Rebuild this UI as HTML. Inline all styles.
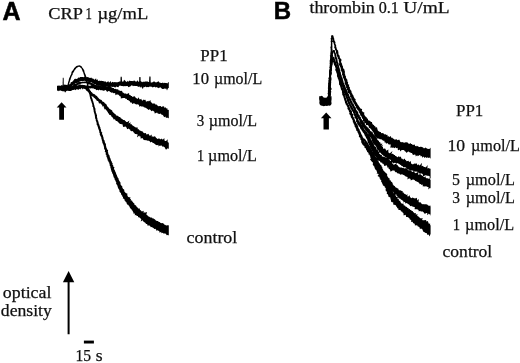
<!DOCTYPE html>
<html><head><meta charset="utf-8"><title>Figure</title>
<style>
html,body{margin:0;padding:0;background:#fff;}
svg{display:block;}
text.s{font-family:"Liberation Serif",serif;fill:#111;stroke:#111;stroke-width:0.25px;}
text.b{font-family:"Liberation Sans",sans-serif;font-weight:bold;fill:#000;stroke:#000;stroke-width:0.5px;}
</style></head><body>
<svg width="520" height="363" viewBox="0 0 520 363">
<defs><clipPath id="cl"><rect x="0" y="0" width="168.8" height="363"/><rect x="300" y="0" width="130.6" height="363"/></clipPath></defs>
<rect width="520" height="363" fill="#fff"/>
<g fill="#000" stroke="none">
<g clip-path="url(#cl)"><path d="M57.0 88.6 L58.0 88.7 L59.0 88.5 L59.9 88.6 L60.9 88.7 L61.8 89.0 L62.7 88.6 L63.6 88.9 L64.5 88.2 L65.4 88.5 L66.2 88.0 L67.1 88.7 L68.0 88.8 L69.1 88.1 L70.1 87.5 L71.7 87.8 L71.8 86.4 L72.3 85.6 L73.0 84.9 L74.1 84.7 L74.6 84.0 L75.3 83.5 L75.9 83.0 L76.9 83.0 L77.7 82.8 L78.5 82.7 L79.0 82.0 L79.7 81.5 L80.5 81.2 L81.3 81.2 L82.0 80.9 L82.7 81.0 L83.4 81.0 L84.3 80.8 L85.1 80.9 L85.9 81.8 L86.8 81.6 L87.7 81.6 L88.5 82.1 L89.2 82.6 L90.0 82.4 L90.7 82.8 L91.7 82.3 L92.4 82.9 L93.1 83.6 L94.0 84.0 L94.9 84.5 L95.8 84.4 L96.5 85.4 L97.4 85.5 L98.2 86.0 L99.5 85.3 L100.3 85.8 L101.1 86.7 L102.1 86.7 L103.0 86.8 L103.8 87.4 L104.9 86.9 L105.8 87.3 L106.9 86.4 L107.9 87.0 L108.8 87.7 L109.8 88.3 L110.7 86.8 L111.7 86.8 L112.6 86.9 L113.5 86.7 L114.5 87.2 L115.5 87.5 L116.3 86.4 L117.4 86.9 L118.4 87.3 L119.1 86.1 L119.9 85.6 L120.7 85.8 L121.6 86.0 L122.3 85.9 L123.2 86.2 L124.1 86.3 L125.0 85.9 L125.8 86.3 L126.7 86.0 L127.6 86.0 L128.5 87.3 L129.4 86.7 L130.3 86.4 L131.2 85.6 L132.1 85.3 L133.0 86.3 L133.9 85.7 L134.8 85.9 L135.7 85.9 L136.6 86.0 L137.5 86.2 L138.4 87.0 L139.3 86.2 L140.2 87.7 L141.1 86.6 L141.9 87.8 L142.8 88.9 L143.8 86.7 L144.6 87.3 L145.6 86.4 L146.4 87.2 L147.3 87.0 L148.2 87.2 L149.2 86.7 L150.1 86.6 L150.9 86.8 L151.8 86.8 L152.6 87.6 L153.6 87.1 L154.5 86.8 L155.3 87.6 L156.3 87.0 L157.2 87.4 L158.1 87.8 L158.9 88.3 L159.9 87.3 L160.8 87.6 L161.6 88.6 L162.5 89.0 L163.4 89.0 L164.4 88.5 L165.3 88.7 L166.2 88.4 L167.0 90.5 L168.0 88.3 L168.9 88.1 L169.8 88.1 L170.4 89.0 L170.7 82.6 L170.1 82.1 L169.2 82.6 L168.3 82.1 L167.4 83.5 L166.5 83.0 L165.6 82.9 L164.7 82.8 L163.8 83.3 L162.9 82.5 L162.0 83.0 L161.1 83.0 L160.2 82.8 L159.4 82.4 L158.6 81.3 L157.6 81.8 L156.7 82.3 L155.8 82.4 L154.9 81.8 L154.1 81.4 L153.1 81.8 L152.2 82.4 L151.2 82.4 L150.3 82.4 L149.4 82.0 L148.5 81.9 L147.7 81.4 L146.8 81.4 L145.8 81.5 L144.9 81.4 L144.0 82.1 L143.1 81.5 L142.2 82.2 L141.3 81.5 L140.4 81.1 L139.5 81.7 L138.6 82.0 L137.7 80.3 L136.8 81.6 L135.9 81.4 L135.0 81.2 L134.1 80.2 L133.2 81.3 L132.3 80.9 L131.4 81.0 L130.5 80.9 L129.6 80.4 L128.6 81.7 L127.8 80.7 L126.8 81.9 L125.9 81.5 L125.0 80.6 L124.1 79.8 L123.2 81.7 L122.3 81.5 L121.3 81.5 L120.3 81.5 L119.3 81.6 L118.4 81.9 L117.5 82.2 L116.6 82.3 L115.7 82.2 L114.9 82.0 L114.1 82.2 L113.2 82.2 L112.3 81.8 L111.5 82.9 L110.6 81.1 L109.7 82.3 L108.9 82.4 L108.2 80.9 L107.3 82.1 L106.5 82.5 L105.8 81.4 L104.9 81.6 L104.0 81.6 L103.2 81.1 L102.4 80.9 L101.6 80.7 L100.6 81.1 L99.9 80.6 L98.9 81.0 L98.0 80.7 L97.5 79.3 L96.3 80.1 L96.1 78.2 L94.6 79.7 L93.9 79.2 L93.1 78.6 L92.0 78.6 L91.3 77.5 L90.2 77.9 L89.2 77.8 L88.4 77.3 L87.4 77.1 L86.4 77.5 L85.6 76.3 L84.6 76.6 L83.6 77.2 L82.6 77.0 L81.4 76.9 L80.3 77.0 L79.4 77.8 L78.3 77.5 L77.6 78.4 L76.7 78.9 L75.4 78.7 L74.4 79.1 L73.9 80.1 L73.1 80.7 L72.6 81.6 L71.7 82.1 L70.7 82.2 L70.6 83.4 L69.9 83.9 L69.1 84.6 L68.5 85.1 L68.1 85.5 L67.6 85.2 L66.9 85.0 L66.1 84.7 L65.2 84.7 L64.4 84.5 L63.5 85.4 L62.7 85.4 L61.8 85.0 L60.8 85.8 L59.9 85.8 L59.0 85.4 L58.0 85.8 L57.0 85.8Z"/>
<path d="M57.0 90.1 L58.0 90.8 L58.9 89.5 L59.9 89.8 L60.8 89.4 L61.7 89.5 L62.6 89.8 L63.5 89.6 L64.4 89.7 L65.3 89.6 L66.2 89.7 L67.1 90.3 L68.0 90.5 L68.9 90.2 L69.8 89.7 L71.1 90.4 L72.1 89.2 L72.8 88.3 L73.6 87.9 L74.5 87.5 L75.1 86.8 L75.9 86.3 L76.6 85.9 L77.3 85.3 L78.0 84.8 L78.8 84.7 L79.5 84.1 L80.4 84.0 L81.1 83.5 L81.9 83.6 L82.8 83.3 L83.7 83.3 L84.6 83.2 L85.4 83.2 L86.3 83.1 L87.1 83.4 L87.9 83.7 L88.6 84.2 L89.4 84.5 L90.3 84.5 L90.7 85.2 L91.5 85.8 L92.1 86.6 L92.9 87.0 L93.4 88.0 L94.3 88.9 L95.4 89.1 L96.3 90.3 L97.5 89.7 L98.3 90.5 L99.4 89.4 L100.2 90.2 L101.2 90.0 L102.1 90.4 L103.0 90.2 L103.8 91.0 L104.8 90.2 L105.7 90.0 L106.5 90.9 L107.1 91.9 L108.0 91.3 L108.9 90.9 L109.5 91.3 L110.2 91.9 L110.9 92.2 L111.5 92.8 L112.7 92.4 L113.3 93.3 L114.4 93.1 L115.3 93.4 L115.4 95.2 L116.6 94.6 L117.7 94.5 L118.5 94.8 L119.2 95.4 L119.8 96.2 L120.8 96.4 L120.8 98.6 L121.9 98.3 L123.1 98.0 L124.1 98.1 L125.1 98.1 L125.6 99.0 L126.7 98.8 L127.1 100.1 L128.2 100.0 L128.9 100.7 L129.8 100.9 L130.0 102.6 L131.2 102.3 L131.8 103.1 L132.4 104.0 L133.7 103.2 L134.6 103.4 L135.4 104.0 L136.1 104.6 L137.2 104.3 L138.2 104.4 L139.0 104.9 L139.3 106.7 L140.6 105.9 L141.3 106.5 L142.3 106.6 L143.2 106.6 L143.9 107.3 L144.8 107.5 L145.6 107.7 L146.4 108.2 L147.1 108.7 L147.8 109.3 L148.4 110.1 L149.6 109.3 L150.3 109.7 L150.9 110.6 L151.5 111.3 L152.9 110.5 L153.6 111.3 L154.4 111.7 L154.7 113.4 L156.0 113.0 L157.1 112.6 L157.7 113.5 L158.6 113.8 L159.5 114.1 L160.7 113.6 L161.3 114.5 L162.2 114.7 L163.0 115.2 L163.6 116.3 L164.2 117.3 L165.5 116.4 L166.0 118.0 L167.1 117.4 L167.9 118.0 L168.8 118.2 L169.3 118.1 L171.8 109.7 L171.3 110.1 L170.7 109.0 L169.9 108.6 L168.5 110.1 L167.7 109.9 L167.3 108.2 L166.3 108.5 L165.8 107.3 L164.6 107.9 L164.2 106.7 L163.4 106.3 L162.4 106.4 L161.2 107.0 L160.7 105.9 L159.7 106.1 L158.7 106.2 L157.9 106.0 L157.3 105.2 L156.7 104.5 L155.6 104.8 L155.1 103.8 L154.2 103.5 L153.2 103.5 L152.2 103.4 L151.5 102.6 L150.7 101.8 L150.4 100.1 L148.9 101.4 L148.2 100.7 L146.9 101.4 L145.9 101.6 L145.5 99.8 L144.6 99.9 L143.7 99.6 L142.4 100.7 L141.7 100.0 L141.2 98.7 L140.0 99.5 L139.2 99.0 L139.0 97.2 L137.3 99.0 L136.7 98.3 L135.8 98.0 L135.3 96.9 L134.6 96.2 L133.6 96.5 L132.4 96.9 L131.9 95.9 L130.9 96.0 L130.4 94.9 L129.3 95.0 L129.1 93.3 L128.2 93.2 L126.8 94.2 L126.1 93.6 L125.1 93.6 L124.2 93.5 L123.5 92.8 L122.7 92.5 L122.3 91.5 L121.7 90.7 L120.5 91.1 L119.8 90.5 L118.8 90.4 L118.2 89.4 L117.2 89.3 L116.3 89.2 L115.5 88.8 L114.3 89.1 L113.7 88.1 L112.7 88.0 L111.8 87.6 L111.0 86.9 L109.9 87.0 L109.0 86.7 L108.0 86.5 L107.1 86.4 L106.2 86.4 L105.3 85.7 L104.4 85.8 L103.4 85.9 L102.5 86.0 L101.6 86.2 L100.8 85.3 L99.9 85.6 L99.2 84.2 L98.0 85.9 L97.3 85.6 L96.6 85.3 L96.0 85.1 L95.1 85.1 L94.6 84.2 L93.7 84.0 L93.1 83.5 L92.2 83.1 L91.2 82.7 L90.2 82.5 L89.5 81.6 L88.4 82.0 L87.5 81.4 L86.4 81.5 L85.4 81.7 L84.5 81.5 L83.6 81.8 L82.7 81.6 L81.8 81.9 L80.8 82.0 L79.7 81.7 L78.8 81.8 L78.0 82.5 L77.0 82.8 L76.2 83.4 L75.3 83.7 L74.3 83.8 L73.7 84.6 L73.1 85.3 L72.3 85.6 L71.5 86.1 L70.8 86.7 L70.2 87.0 L69.5 86.5 L68.7 86.8 L67.8 86.5 L67.0 86.5 L66.1 86.5 L65.2 86.5 L64.4 86.7 L63.5 86.8 L62.6 86.9 L61.7 86.7 L60.8 86.8 L59.8 86.5 L58.9 86.9 L58.0 86.5 L57.0 87.1Z"/>
<path d="M57.0 90.8 L57.9 90.3 L58.8 91.2 L59.7 90.6 L60.7 90.6 L61.6 90.9 L62.5 91.2 L63.4 91.2 L64.3 91.4 L65.2 91.1 L66.1 91.2 L67.0 90.7 L67.9 90.5 L68.8 91.0 L69.7 90.9 L70.7 91.1 L71.7 90.5 L72.6 90.1 L73.6 90.1 L74.4 89.5 L75.5 90.2 L76.1 89.5 L76.9 89.2 L77.8 89.4 L78.8 89.7 L79.5 88.8 L80.4 89.5 L81.2 88.3 L82.0 88.3 L82.6 89.4 L83.6 88.5 L84.4 88.6 L85.0 89.2 L85.1 89.6 L85.9 89.3 L86.0 90.2 L86.8 90.9 L87.6 91.6 L88.3 92.3 L89.0 92.9 L89.4 93.9 L90.0 94.6 L90.6 95.3 L91.3 95.9 L92.1 96.4 L93.1 96.6 L93.6 97.4 L94.4 97.9 L95.0 98.5 L95.6 99.3 L96.3 99.8 L96.7 100.8 L97.7 101.0 L98.4 101.5 L98.7 102.6 L99.0 103.5 L100.4 103.2 L101.0 103.9 L101.4 104.6 L102.3 105.0 L102.0 106.4 L103.6 106.1 L103.7 107.3 L104.3 107.9 L104.2 109.2 L105.6 109.2 L106.2 109.9 L106.7 110.7 L107.3 111.4 L107.8 112.3 L108.2 113.1 L108.8 113.8 L109.2 114.7 L110.2 115.0 L111.1 115.4 L111.3 116.5 L112.2 116.9 L112.7 117.8 L113.3 118.5 L113.6 119.6 L115.0 119.3 L115.4 120.3 L116.1 120.9 L117.3 121.0 L117.7 121.9 L118.5 122.4 L119.3 122.9 L119.7 124.0 L120.9 123.9 L121.7 124.3 L122.7 124.5 L122.8 125.9 L123.3 126.9 L124.5 126.7 L125.6 126.5 L126.3 127.2 L126.7 128.1 L127.2 129.2 L128.6 128.6 L129.2 129.3 L130.1 129.6 L130.5 130.7 L131.2 131.2 L132.3 131.1 L133.1 131.6 L133.7 132.4 L134.4 133.0 L134.9 133.9 L135.9 134.0 L136.9 134.2 L137.7 134.5 L136.9 137.4 L139.2 135.5 L139.6 136.5 L140.7 136.5 L140.5 138.6 L141.8 138.2 L142.9 138.3 L143.2 139.6 L144.2 139.9 L145.1 140.3 L146.2 140.1 L147.0 140.7 L148.2 140.4 L148.9 141.0 L149.8 141.2 L150.4 142.4 L151.6 141.7 L152.3 142.6 L153.2 142.9 L154.0 143.2 L154.7 143.9 L155.4 144.6 L156.3 145.0 L157.1 145.3 L158.3 144.8 L158.6 146.5 L159.9 145.5 L160.8 145.8 L161.9 145.4 L162.4 146.8 L163.4 146.6 L164.3 146.9 L165.0 147.7 L165.5 149.2 L166.4 149.4 L167.7 148.3 L168.5 148.7 L169.4 149.0 L169.7 148.6 L171.2 143.1 L171.2 142.8 L170.2 142.8 L169.5 142.1 L168.4 142.7 L167.7 142.1 L167.6 139.3 L166.1 141.1 L165.2 141.1 L164.5 140.4 L164.3 138.1 L163.0 139.4 L162.0 139.3 L161.4 138.5 L160.1 139.6 L159.5 138.4 L158.6 138.4 L157.4 139.0 L156.7 138.3 L156.0 137.7 L155.4 136.7 L154.7 136.2 L153.5 136.7 L152.7 136.5 L151.7 136.5 L151.7 134.4 L150.1 135.8 L149.3 135.5 L148.9 134.6 L148.3 133.7 L147.0 134.6 L146.2 134.2 L146.0 132.9 L144.8 133.3 L144.0 132.9 L143.2 132.4 L142.7 131.5 L141.9 131.2 L140.9 131.0 L140.1 130.6 L139.3 130.2 L138.9 129.2 L137.7 129.3 L137.7 127.6 L136.7 127.6 L135.8 127.4 L135.0 126.9 L134.2 126.5 L133.5 126.0 L132.7 125.5 L131.9 125.1 L131.5 124.1 L130.3 124.3 L130.6 122.2 L128.6 123.5 L129.4 120.6 L127.4 122.1 L126.4 122.0 L125.7 121.3 L125.1 120.7 L124.5 120.0 L123.3 120.1 L122.8 119.4 L122.1 118.9 L121.3 118.4 L120.5 118.1 L120.3 117.0 L119.2 117.1 L118.6 116.4 L117.9 115.9 L117.1 115.5 L116.0 115.4 L115.7 114.4 L115.0 113.8 L114.2 113.4 L113.5 112.8 L113.0 112.1 L112.3 111.6 L112.2 110.4 L111.4 109.9 L110.6 109.5 L109.9 108.9 L109.1 108.5 L108.7 107.7 L108.1 107.1 L107.4 106.5 L107.0 105.7 L106.6 104.8 L106.1 104.0 L105.1 103.6 L104.6 102.9 L104.0 102.1 L103.0 101.8 L102.2 101.3 L101.8 100.3 L101.0 99.8 L100.1 99.5 L99.4 98.9 L98.7 98.3 L98.1 97.6 L97.4 97.1 L97.1 96.0 L96.3 95.7 L95.5 95.2 L95.0 94.4 L94.0 94.1 L93.2 93.7 L92.5 93.2 L92.0 92.3 L91.2 91.9 L90.9 91.0 L90.2 90.5 L89.9 89.7 L89.1 89.4 L88.7 88.5 L87.9 87.7 L87.5 86.3 L86.4 85.7 L85.3 85.4 L84.3 84.9 L83.1 85.1 L82.0 84.8 L81.0 85.1 L79.9 84.1 L79.0 84.9 L78.1 85.3 L77.2 85.5 L76.3 85.6 L75.4 85.7 L74.5 86.3 L73.6 86.6 L72.8 87.1 L72.0 87.5 L71.0 86.9 L70.4 87.9 L69.5 87.7 L68.7 87.7 L67.8 87.7 L66.9 87.7 L66.0 88.1 L65.1 87.5 L64.2 87.7 L63.3 87.8 L62.4 87.3 L61.5 87.5 L60.6 87.3 L59.7 87.8 L58.8 87.9 L57.9 87.8 L57.0 87.5Z"/>
<path d="M84.0 88.3 L84.9 89.1 L85.8 88.5 L86.7 88.7 L87.6 88.4 L88.5 88.2 L89.4 88.3 L90.3 88.4 L91.2 88.3 L92.1 88.3 L93.0 88.5 L93.9 88.2 L94.8 87.9 L95.6 88.1 L96.5 88.2 L97.4 88.0 L98.3 88.6 L99.2 88.4 L99.9 88.8 L100.1 86.3 L99.4 86.2 L98.5 85.6 L97.6 85.3 L96.7 85.3 L95.8 85.8 L94.9 85.7 L94.0 85.1 L93.0 85.7 L92.1 85.1 L91.2 85.4 L90.3 85.8 L89.4 85.8 L88.5 85.9 L87.6 85.9 L86.7 85.6 L85.8 85.8 L84.9 85.5 L84.0 85.5Z"/>
<path d="M68.3 87.2 L68.6 86.3 L68.8 85.5 L69.0 84.6 L69.2 83.7 L69.4 82.8 L69.8 82.0 L69.9 81.1 L70.3 80.3 L70.6 79.5 L70.8 78.6 L71.1 77.7 L71.4 76.9 L71.7 76.1 L72.2 75.3 L72.7 74.6 L72.7 73.6 L73.3 72.8 L73.7 72.0 L74.2 71.3 L74.5 70.5 L75.1 69.8 L75.6 69.2 L76.1 68.6 L76.5 67.9 L77.2 67.4 L77.9 67.3 L78.6 66.8 L79.2 66.8 L79.8 67.0 L80.4 67.6 L81.0 68.0 L81.5 68.6 L81.9 69.5 L82.3 70.2 L82.4 71.1 L83.0 71.9 L83.3 72.7 L83.5 73.5 L83.8 74.4 L84.0 75.3 L84.4 76.1 L84.7 76.9 L85.2 77.7 L85.4 78.6 L85.3 79.5 L85.5 80.4 L86.0 81.2 L86.2 82.1 L86.3 82.9 L86.7 83.8 L86.9 84.6 L86.9 85.5 L87.2 86.4 L87.3 87.3 L87.6 88.2 L87.6 89.1 L88.1 89.9 L88.0 90.9 L88.4 91.7 L88.9 92.5 L88.9 93.4 L89.4 94.3 L89.5 95.2 L89.7 96.0 L89.8 97.0 L90.1 97.8 L90.2 98.7 L90.7 99.5 L90.8 100.4 L91.3 101.2 L91.4 102.1 L91.8 102.9 L92.0 103.8 L92.3 104.6 L92.4 105.5 L92.3 106.5 L93.0 107.2 L93.2 108.1 L93.3 109.0 L93.5 109.9 L93.7 110.8 L93.7 111.7 L94.0 112.5 L94.3 113.4 L94.5 114.3 L94.8 115.1 L94.8 116.0 L95.1 116.9 L95.0 117.8 L95.3 118.7 L95.8 119.5 L95.7 120.5 L96.1 121.3 L96.4 122.2 L96.7 123.0 L96.6 124.0 L96.8 124.9 L97.4 125.6 L97.6 126.5 L98.0 127.4 L98.1 128.3 L98.4 129.1 L98.8 129.9 L99.1 130.8 L99.3 131.7 L99.3 132.6 L99.9 133.4 L99.7 134.4 L100.2 135.2 L100.3 136.1 L101.0 136.8 L101.3 137.7 L101.3 138.6 L101.7 139.4 L101.8 140.3 L102.1 141.2 L102.4 142.0 L102.3 143.0 L103.0 143.7 L103.2 144.6 L103.6 145.4 L103.8 146.3 L104.0 147.2 L104.1 148.1 L104.1 149.0 L104.8 149.8 L105.1 150.6 L104.7 151.7 L105.6 152.3 L105.8 153.2 L105.5 154.3 L106.3 155.0 L106.5 155.9 L106.4 156.9 L107.1 157.6 L107.2 158.5 L107.6 159.3 L107.5 160.3 L108.5 160.9 L108.3 161.9 L109.2 162.6 L109.3 163.5 L109.7 164.3 L109.5 165.3 L110.2 166.0 L110.4 166.9 L110.4 167.9 L110.9 168.7 L110.9 169.6 L111.3 170.4 L111.4 171.4 L112.0 172.1 L112.1 173.0 L112.5 173.8 L113.0 174.6 L113.2 175.5 L113.5 176.4 L113.6 177.3 L114.4 178.0 L114.6 178.9 L114.7 179.8 L115.4 180.5 L115.6 181.4 L116.2 182.1 L116.2 183.1 L116.1 184.1 L117.0 184.7 L117.3 185.6 L117.6 186.5 L117.9 187.4 L118.2 188.2 L118.6 189.0 L119.2 189.8 L119.5 190.7 L119.5 191.7 L120.2 192.4 L120.9 193.0 L121.1 194.0 L121.4 194.9 L122.2 195.5 L122.2 196.6 L123.1 197.1 L122.8 198.4 L124.0 198.7 L124.5 199.5 L124.5 200.6 L125.4 201.1 L125.6 202.1 L126.6 202.6 L126.7 203.6 L127.1 204.5 L128.2 204.8 L128.6 205.6 L129.3 206.3 L129.7 207.2 L130.2 207.9 L130.7 208.7 L131.5 209.2 L131.8 210.2 L132.6 210.7 L132.9 211.8 L133.4 212.6 L133.6 213.8 L135.1 213.6 L134.7 215.3 L136.3 215.0 L136.6 216.0 L137.9 216.0 L138.1 217.2 L139.3 217.2 L139.8 218.1 L140.7 218.4 L141.3 219.3 L140.7 221.5 L142.8 220.3 L143.3 221.4 L144.0 222.0 L144.8 222.5 L145.5 223.1 L146.0 224.1 L147.2 224.0 L147.4 225.4 L148.6 225.4 L149.5 225.6 L150.3 226.2 L150.8 227.3 L152.0 227.1 L152.7 227.7 L153.6 228.0 L154.1 229.1 L155.3 228.8 L156.1 229.4 L156.4 230.8 L157.7 230.2 L158.4 230.8 L159.3 231.3 L159.7 232.7 L161.1 231.8 L161.5 233.2 L162.7 232.8 L163.4 233.5 L164.4 233.6 L165.4 233.6 L166.1 234.2 L166.8 235.2 L167.9 234.9 L168.7 235.3 L168.9 235.7 L171.9 227.0 L171.7 226.8 L170.9 226.5 L170.2 225.7 L169.3 225.8 L168.6 225.2 L167.6 225.3 L166.5 225.6 L165.8 225.2 L165.0 224.7 L164.2 224.5 L163.6 223.7 L163.0 223.0 L161.9 223.2 L161.0 223.0 L160.2 222.8 L159.7 221.9 L158.7 221.9 L158.1 221.0 L157.2 220.9 L156.3 220.8 L155.6 220.3 L155.0 219.6 L154.3 219.1 L153.6 218.5 L152.6 218.5 L152.1 217.8 L151.2 217.6 L150.3 217.4 L149.7 216.9 L148.9 216.5 L148.0 216.3 L147.6 215.6 L147.0 214.9 L146.3 214.5 L147.1 212.1 L145.7 212.5 L144.6 212.5 L143.4 212.6 L143.8 210.8 L141.9 211.5 L141.3 210.9 L140.8 210.2 L139.8 210.0 L140.1 208.4 L138.5 208.8 L138.2 208.0 L137.5 207.4 L136.7 207.0 L136.4 206.1 L135.9 205.4 L135.1 204.9 L134.3 204.4 L134.3 203.3 L133.4 202.9 L133.0 202.1 L132.2 201.6 L132.1 200.6 L130.7 200.6 L131.1 199.2 L130.0 198.9 L130.6 197.4 L129.4 197.2 L128.3 196.9 L127.7 196.2 L127.4 195.4 L127.3 194.4 L127.4 193.4 L126.0 193.2 L125.3 192.6 L124.8 191.9 L124.3 191.2 L124.3 190.2 L124.0 189.3 L122.8 189.0 L122.9 187.9 L122.2 187.4 L122.3 186.3 L121.6 185.7 L120.8 185.0 L120.6 184.2 L120.5 183.3 L120.4 182.3 L119.8 181.6 L119.3 180.9 L119.0 180.0 L118.5 179.2 L118.5 178.3 L117.7 177.6 L117.4 176.8 L117.1 175.9 L116.8 175.1 L116.3 174.3 L116.1 173.4 L115.8 172.6 L115.4 171.8 L115.0 171.0 L114.8 170.1 L114.2 169.4 L114.0 168.5 L114.5 167.3 L113.3 166.8 L113.4 165.8 L112.8 165.1 L112.4 164.3 L112.7 163.2 L111.9 162.6 L111.8 161.6 L111.2 160.9 L111.0 160.0 L110.6 159.2 L110.4 158.3 L109.9 157.5 L109.7 156.7 L109.6 155.8 L109.1 155.0 L108.5 154.2 L108.3 153.4 L108.2 152.4 L107.8 151.6 L108.2 150.6 L107.5 149.8 L107.0 149.1 L106.8 148.2 L106.4 147.4 L106.2 146.5 L105.9 145.6 L106.0 144.7 L105.8 143.8 L105.2 143.0 L104.9 142.2 L104.7 141.3 L104.6 140.4 L103.9 139.7 L103.6 138.8 L103.6 137.9 L103.3 137.0 L103.0 136.2 L102.8 135.3 L102.3 134.5 L102.0 133.7 L102.3 132.6 L101.5 131.9 L101.1 131.1 L101.1 130.2 L100.9 129.3 L100.4 128.5 L100.4 127.6 L100.0 126.8 L99.7 125.9 L99.4 125.1 L99.2 124.2 L98.7 123.4 L98.6 122.5 L98.3 121.6 L98.1 120.8 L97.6 120.0 L97.4 119.1 L97.4 118.2 L97.1 117.4 L96.9 116.5 L97.1 115.5 L96.7 114.7 L96.5 113.8 L96.0 113.0 L95.8 112.1 L95.7 111.2 L95.4 110.3 L95.5 109.4 L95.4 108.5 L95.0 107.7 L94.6 106.8 L94.5 105.9 L94.2 105.1 L94.0 104.2 L93.8 103.3 L93.5 102.5 L93.3 101.6 L92.9 100.7 L92.7 99.8 L92.5 99.0 L92.1 98.1 L91.8 97.3 L91.6 96.4 L91.2 95.6 L91.1 94.7 L90.8 93.8 L90.7 92.9 L90.5 92.0 L90.0 91.3 L89.9 90.4 L89.5 89.6 L89.3 88.7 L89.1 87.8 L89.2 86.9 L88.7 86.1 L88.5 85.2 L88.6 84.2 L88.0 83.4 L87.9 82.5 L87.6 81.7 L87.4 80.8 L87.1 79.9 L87.0 79.0 L86.9 78.1 L86.7 77.2 L86.2 76.4 L85.9 75.6 L85.7 74.7 L85.2 73.9 L85.0 73.0 L84.5 72.2 L84.4 71.2 L84.2 70.3 L83.7 69.5 L83.2 68.7 L82.7 67.9 L82.0 67.2 L81.6 66.2 L80.6 65.7 L79.5 65.2 L78.3 65.4 L77.3 65.7 L76.4 66.1 L75.6 66.8 L74.9 67.5 L74.2 68.1 L73.8 68.9 L73.2 69.7 L72.7 70.5 L72.0 71.2 L71.5 72.0 L71.4 73.0 L71.2 73.9 L70.8 74.7 L70.4 75.5 L70.0 76.4 L69.8 77.3 L69.1 78.0 L69.1 79.0 L68.7 79.8 L68.7 80.8 L68.3 81.6 L68.0 82.4 L67.9 83.3 L67.6 84.2 L67.4 85.1 L67.0 85.9 L66.8 86.8Z"/>
<path d="M64.5 89.0 L64.6 89.9 L64.6 90.8 L64.7 91.7 L64.7 92.3 L65.9 92.3 L65.9 91.7 L66.0 90.8 L66.0 89.9 L66.1 89.0Z"/>
<path d="M63.9 88.0 L63.8 87.1 L63.8 86.2 L63.8 85.3 L63.8 84.4 L63.7 83.5 L63.7 82.6 L63.7 81.7 L63.7 80.8 L63.7 79.9 L63.7 79.0 L63.6 78.1 L63.6 77.8 L62.8 77.8 L62.8 78.1 L62.7 79.0 L62.8 79.9 L62.7 80.8 L62.7 81.7 L62.6 82.6 L62.7 83.5 L62.6 84.4 L62.6 85.3 L62.6 86.2 L62.5 87.1 L62.5 88.0Z"/>
<path d="M122.1 84.0 L122.1 83.1 L122.0 82.2 L122.0 81.3 L122.0 80.4 L121.9 79.5 L121.9 78.6 L121.8 77.7 L121.8 76.8 L121.2 76.8 L121.2 76.8 L120.6 76.8 L120.6 77.7 L120.5 78.6 L120.5 79.5 L120.5 80.4 L120.4 81.3 L120.4 82.2 L120.4 83.1 L120.3 84.0Z"/>
<path d="M140.8 84.0 L140.8 83.1 L140.7 82.2 L140.7 81.3 L140.6 80.4 L140.6 79.5 L140.6 78.6 L140.5 77.7 L140.5 77.0 L139.3 77.0 L139.3 77.7 L139.2 78.6 L139.2 79.5 L139.2 80.4 L139.1 81.3 L139.1 82.2 L139.0 83.1 L139.0 84.0Z"/>
<path d="M150.8 84.0 L150.8 83.1 L150.7 82.2 L150.7 81.3 L150.6 80.4 L150.6 79.5 L150.6 78.6 L150.6 77.7 L150.5 76.8 L150.5 76.6 L149.3 76.6 L149.3 76.8 L149.3 77.7 L149.2 78.6 L149.2 79.5 L149.1 80.4 L149.1 81.3 L149.1 82.2 L149.1 83.1 L149.0 84.0Z"/>
<path d="M319.2 96.6 L319.9 95.9 L320.8 96.2 L321.6 95.8 L322.6 96.3 L323.3 97.2 L324.2 97.7 L325.1 97.5 L326 97.9 L326.8 97.2 L327.5 96.3 L328.4 95.9 L329.2 96.3 L331.5 96.2 L331.6 99 L331.3 101.5 L331.6 103.6 L331 105 L329.8 105.8 L328.4 105.6 L327 106.1 L325.4 105.8 L323.8 106.2 L322.2 105.8 L320.8 105.5 L319.8 104.6 L319.3 103 L319.5 101 L319.1 99 Z"/>
<path d="M330.4 99.0 L330.7 98.2 L330.7 97.3 L330.3 96.3 L330.7 95.5 L330.9 94.6 L331.0 93.7 L330.8 92.8 L331.4 91.9 L331.0 91.0 L330.7 90.0 L331.9 89.2 L331.4 88.3 L331.0 87.4 L330.8 86.4 L330.8 85.5 L331.1 84.7 L331.0 83.8 L331.2 82.9 L331.2 82.0 L331.1 81.1 L331.4 80.2 L331.5 79.3 L331.5 78.4 L331.2 77.5 L331.0 76.5 L331.0 75.6 L331.3 74.8 L331.3 73.9 L331.2 72.9 L331.3 72.1 L331.2 71.1 L331.4 70.3 L331.6 69.4 L331.6 68.5 L332.0 67.6 L332.0 66.7 L331.8 65.8 L331.9 64.9 L331.5 64.0 L331.6 63.1 L331.9 62.2 L331.6 61.3 L331.6 60.4 L331.7 59.5 L332.0 58.6 L331.7 57.7 L331.8 56.8 L331.9 55.9 L331.9 55.0 L332.5 54.0 L332.0 53.0 L332.1 51.9 L332.4 50.8 L332.6 49.7 L332.3 48.5 L332.4 47.3 L332.4 46.1 L332.3 44.9 L332.4 43.7 L332.3 42.6 L332.7 41.5 L332.4 40.5 L332.5 39.6 L332.7 38.7 L332.7 37.9 L332.7 37.3 L332.9 36.8 L332.9 36.4 L332.8 36.2 L332.5 36.6 L331.6 36.3 L331.8 36.5 L331.9 37.2 L332.2 38.0 L332.6 39.0 L332.8 40.1 L332.5 41.4 L333.4 42.4 L333.7 43.5 L333.9 44.4 L334.3 45.3 L334.4 46.2 L334.2 47.2 L334.3 48.1 L335.0 48.8 L335.0 49.8 L335.6 50.5 L336.0 51.3 L336.0 52.3 L336.0 53.2 L336.6 54.0 L336.7 54.9 L336.8 55.8 L337.2 56.6 L337.8 57.4 L337.4 58.4 L338.5 59.0 L338.8 59.9 L338.7 60.8 L339.0 61.7 L339.2 62.6 L339.2 63.5 L338.7 64.6 L339.3 65.4 L340.0 66.1 L340.0 67.0 L340.7 67.8 L340.7 68.7 L340.9 69.6 L341.0 70.5 L341.4 71.3 L341.7 72.1 L342.3 72.9 L341.9 73.9 L342.1 74.8 L342.6 75.6 L342.8 76.5 L342.9 77.4 L343.4 78.2 L343.7 79.1 L344.1 79.9 L344.4 80.8 L344.7 81.6 L344.7 82.6 L344.6 83.6 L345.2 84.4 L345.5 85.2 L346.2 85.9 L346.0 87.0 L346.2 87.9 L347.2 88.5 L346.6 89.6 L347.5 90.3 L348.0 91.0 L347.6 92.2 L348.2 92.9 L349.2 93.5 L349.7 94.3 L350.1 95.1 L350.2 96.0 L350.0 97.1 L351.2 97.6 L351.3 98.5 L351.4 99.5 L352.1 100.2 L352.7 100.9 L352.8 101.9 L353.5 102.6 L353.8 103.4 L354.5 104.1 L354.7 105.0 L355.1 105.8 L355.9 106.4 L356.0 107.4 L356.5 108.2 L356.8 109.1 L357.5 109.7 L358.2 110.3 L358.4 111.2 L359.2 111.8 L359.1 112.9 L359.9 113.5 L360.1 114.4 L360.5 115.2 L360.6 116.2 L361.7 116.6 L361.8 117.6 L362.0 118.6 L363.1 119.0 L362.9 120.3 L363.2 121.2 L364.3 121.6 L364.1 122.9 L365.4 123.1 L366.0 123.8 L365.8 125.2 L367.6 124.9 L368.2 125.6 L368.8 126.2 L368.7 127.6 L369.6 128.0 L370.3 128.6 L371.1 129.1 L371.5 130.0 L372.1 130.6 L372.6 131.4 L373.1 132.1 L373.7 132.8 L373.9 133.9 L374.4 134.7 L374.6 135.9 L375.5 136.4 L376.3 137.0 L376.9 137.8 L377.6 138.7 L379.0 138.5 L379.7 139.2 L380.9 139.3 L381.9 139.5 L382.5 140.3 L383.4 140.7 L384.4 140.8 L384.6 142.5 L385.7 142.5 L386.0 143.8 L387.4 143.0 L388.1 143.7 L388.7 144.5 L389.7 144.6 L390.8 144.4 L390.3 147.7 L391.4 147.6 L392.4 147.7 L393.5 147.6 L394.3 148.3 L395.7 147.3 L396.4 148.3 L397.6 147.7 L397.8 149.7 L398.7 150.2 L399.9 149.6 L400.2 151.6 L401.7 150.0 L402.6 150.0 L403.6 150.1 L404.4 150.5 L405.0 151.5 L405.9 151.7 L406.5 152.9 L407.8 151.7 L408.8 151.4 L409.4 152.3 L410.3 152.4 L411.1 153.0 L412.0 153.1 L412.6 154.4 L413.4 154.9 L414.5 154.5 L415.4 154.7 L415.8 156.4 L417.1 155.3 L417.9 156.2 L419.1 155.3 L420.1 155.1 L420.8 156.5 L421.9 155.9 L422.4 157.8 L423.7 156.4 L424.4 157.9 L425.5 156.9 L426.3 157.9 L427.3 157.2 L428.1 158.1 L429.2 157.5 L430.1 157.9 L430.9 158.7 L431.7 159.7 L433.0 149.5 L432.2 149.5 L431.6 147.4 L430.7 147.8 L429.7 148.8 L428.8 148.9 L427.9 148.8 L427.1 148.7 L426.3 148.0 L425.5 147.6 L424.5 148.2 L423.6 148.3 L423.0 147.2 L422.1 147.3 L421.3 146.8 L420.5 146.7 L419.6 146.9 L418.6 147.0 L418.0 145.8 L416.9 146.5 L416.3 145.7 L415.2 146.2 L414.7 144.6 L413.7 144.8 L412.7 145.1 L412.0 144.1 L411.1 143.9 L410.4 143.1 L409.2 144.0 L408.4 143.5 L407.7 142.6 L406.8 142.5 L406.0 142.1 L404.9 142.8 L404.0 142.6 L403.1 142.6 L402.3 142.0 L401.3 142.2 L400.5 141.9 L399.9 141.0 L399.5 139.7 L398.6 139.7 L397.5 140.2 L396.9 139.5 L396.1 139.2 L394.9 139.7 L394.2 139.2 L393.5 138.7 L392.7 138.3 L392.1 137.6 L391.1 137.7 L390.9 135.9 L389.4 137.0 L388.8 136.2 L387.6 136.5 L387.5 134.8 L386.4 135.1 L385.9 134.3 L384.7 134.6 L384.1 134.1 L383.5 133.5 L383.0 133.0 L381.9 133.2 L381.1 132.9 L380.8 132.1 L379.9 131.9 L379.2 131.4 L378.3 131.0 L377.7 130.3 L377.5 129.3 L377.2 128.3 L377.0 127.3 L375.5 127.4 L375.3 126.3 L374.2 126.1 L374.1 125.0 L373.0 124.8 L372.6 124.0 L372.1 123.2 L372.0 122.1 L370.9 121.9 L370.4 121.2 L369.7 120.7 L368.5 120.5 L368.0 119.8 L368.0 118.8 L367.0 118.5 L366.7 117.6 L366.2 116.9 L365.5 116.4 L364.8 115.7 L364.6 114.8 L363.9 114.2 L364.5 112.8 L363.5 112.3 L362.6 111.8 L362.1 111.1 L361.8 110.2 L362.2 108.9 L360.7 108.7 L360.2 108.0 L359.6 107.3 L359.1 106.6 L358.6 105.8 L358.2 105.0 L357.6 104.4 L357.2 103.5 L356.8 102.8 L356.2 102.0 L355.8 101.3 L355.4 100.5 L355.7 99.3 L355.0 98.7 L354.3 98.1 L354.1 97.2 L353.6 96.5 L353.5 95.5 L352.7 94.9 L352.6 94.0 L351.9 93.3 L351.6 92.5 L351.5 91.6 L351.3 90.7 L350.5 90.0 L350.2 89.2 L349.8 88.4 L350.0 87.4 L349.2 86.7 L349.0 85.8 L349.3 84.7 L348.1 84.2 L347.9 83.3 L348.2 82.3 L347.4 81.6 L347.4 80.7 L347.4 79.8 L346.7 79.1 L346.3 78.3 L345.9 77.5 L346.0 76.6 L345.6 75.7 L345.0 75.0 L345.3 74.0 L344.6 73.2 L345.0 72.2 L344.8 71.3 L344.5 70.4 L344.4 69.5 L343.7 68.7 L343.0 68.0 L343.1 67.0 L342.9 66.2 L342.4 65.4 L342.1 64.5 L342.0 63.6 L341.4 62.9 L341.2 62.0 L341.0 61.1 L341.8 59.9 L341.1 59.2 L340.5 58.4 L339.9 57.7 L339.7 56.8 L339.7 55.8 L338.9 55.1 L338.5 54.3 L338.4 53.4 L338.4 52.5 L338.2 51.6 L338.1 50.6 L337.3 50.0 L336.9 49.1 L336.6 48.3 L336.5 47.4 L336.1 46.6 L336.2 45.6 L336.0 44.7 L335.3 44.0 L335.4 43.0 L335.4 41.9 L334.7 40.9 L334.3 39.8 L334.2 38.6 L333.8 37.6 L333.5 36.7 L333.6 36.0 L333.1 35.5 L332.1 35.0 L331.1 35.5 L331.4 36.1 L330.9 36.5 L331.1 37.1 L331.2 37.8 L330.5 38.6 L330.9 39.5 L330.9 40.4 L330.6 41.4 L330.9 42.5 L330.9 43.7 L330.8 44.8 L330.9 46.0 L330.3 47.2 L330.6 48.4 L330.6 49.6 L330.7 50.8 L330.5 51.9 L330.4 52.9 L330.2 53.9 L330.4 54.9 L329.8 55.8 L330.2 56.7 L330.1 57.6 L330.1 58.5 L330.0 59.4 L329.8 60.3 L329.5 61.2 L330.0 62.1 L329.5 63.0 L329.8 63.9 L329.9 64.8 L329.8 65.7 L329.7 66.6 L329.3 67.5 L329.9 68.4 L329.7 69.3 L329.6 70.2 L329.0 71.1 L329.3 72.0 L329.5 72.9 L329.4 73.8 L329.4 74.7 L329.3 75.6 L329.0 76.5 L329.4 77.4 L329.3 78.3 L329.4 79.2 L328.8 80.1 L329.3 81.0 L329.2 81.9 L328.7 82.8 L328.8 83.7 L328.9 84.6 L329.1 85.5 L329.1 86.4 L329.1 87.3 L328.8 88.2 L328.8 89.1 L328.5 90.0 L329.1 90.9 L328.8 91.8 L328.9 92.7 L328.9 93.6 L328.4 94.5 L328.4 95.4 L328.6 96.3 L328.6 97.2 L328.5 98.1 L328.4 99.0Z"/>
<path d="M330.2 99.0 L330.5 98.1 L330.1 97.2 L330.2 96.3 L330.0 95.4 L330.3 94.5 L330.5 93.6 L330.3 92.7 L330.4 91.8 L330.3 90.9 L330.4 90.0 L330.9 89.2 L330.3 88.2 L330.7 87.4 L330.5 86.4 L330.6 85.6 L330.7 84.7 L330.8 83.8 L331.1 82.9 L330.9 82.0 L331.0 81.1 L330.9 80.2 L331.0 79.3 L330.9 78.4 L331.0 77.5 L331.0 76.6 L331.1 75.7 L331.1 74.8 L331.5 73.9 L331.5 73.0 L331.4 72.1 L331.4 71.2 L332.0 70.3 L331.4 69.4 L332.0 68.5 L331.9 67.6 L331.6 66.7 L331.6 65.8 L331.7 64.9 L331.9 64.0 L331.8 63.1 L331.9 62.2 L332.3 61.3 L332.4 60.3 L332.4 59.2 L332.5 58.0 L332.8 56.9 L333.1 55.8 L332.8 54.6 L333.3 53.6 L333.3 52.7 L333.8 52.0 L334.1 51.5 L333.9 51.1 L333.7 51.4 L332.9 51.3 L333.4 51.4 L333.7 52.1 L333.9 53.1 L334.3 54.2 L334.4 55.4 L334.6 56.5 L335.0 57.4 L334.9 58.3 L335.3 59.2 L335.6 60.0 L335.6 60.9 L335.5 61.9 L336.0 62.7 L336.4 63.5 L336.8 64.3 L336.7 65.3 L337.2 66.1 L337.5 66.9 L337.6 67.8 L337.8 68.7 L338.2 69.5 L337.6 70.6 L338.5 71.3 L338.7 72.2 L338.6 73.1 L339.0 74.0 L339.0 74.9 L339.6 75.7 L339.9 76.6 L340.1 77.5 L340.3 78.3 L340.0 79.4 L340.9 80.0 L341.3 80.9 L341.4 81.8 L341.6 82.7 L342.0 83.5 L342.3 84.4 L342.5 85.3 L343.0 86.0 L343.3 86.9 L343.6 87.8 L344.0 88.6 L344.3 89.4 L344.7 90.2 L344.8 91.2 L345.2 92.0 L345.6 92.8 L345.6 93.8 L346.3 94.5 L346.8 95.3 L347.0 96.1 L347.6 96.8 L347.9 97.7 L348.3 98.5 L348.8 99.3 L349.0 100.2 L349.4 101.0 L349.8 101.8 L350.1 102.7 L350.4 103.5 L350.9 104.3 L351.4 105.0 L351.4 106.1 L352.4 106.6 L352.4 107.6 L353.2 108.2 L353.5 109.0 L353.7 109.9 L353.8 110.9 L354.2 111.7 L355.0 112.3 L355.4 113.1 L356.0 113.9 L355.6 115.1 L356.4 115.7 L357.0 116.4 L357.2 117.3 L357.8 118.0 L358.4 118.7 L358.9 119.5 L359.3 120.3 L359.6 121.1 L360.0 121.9 L360.1 123.0 L360.8 123.6 L361.5 124.3 L361.3 125.5 L362.1 126.1 L362.6 126.9 L363.4 127.5 L363.9 128.3 L364.6 128.9 L365.1 129.7 L365.6 130.5 L366.1 131.2 L366.7 131.9 L367.4 132.4 L367.2 133.6 L368.5 133.8 L368.6 134.9 L368.6 136.0 L369.3 136.5 L370.0 137.1 L370.6 137.8 L371.3 138.4 L371.5 139.3 L371.9 140.1 L371.7 141.2 L372.5 141.6 L373.1 142.2 L372.4 143.5 L374.0 143.7 L374.2 144.6 L375.0 145.2 L375.8 145.9 L376.2 146.8 L376.5 147.7 L376.6 148.9 L377.4 149.6 L378.1 150.3 L378.9 151.0 L378.9 152.4 L380.1 152.6 L380.9 153.2 L381.4 154.0 L382.1 154.7 L383.0 155.1 L383.5 155.9 L384.6 156.1 L384.8 157.4 L385.7 157.7 L386.8 157.8 L387.5 158.4 L388.1 159.3 L389.0 159.6 L390.2 159.5 L390.8 160.3 L391.3 161.4 L391.6 162.8 L392.9 162.4 L393.4 163.4 L394.8 162.7 L395.8 163.0 L396.5 163.8 L397.8 163.1 L398.5 163.7 L399.3 164.1 L400.0 164.8 L400.9 165.1 L401.6 165.9 L402.4 166.1 L403.0 166.8 L403.7 167.4 L404.9 167.0 L405.7 167.4 L406.5 168.0 L407.1 168.8 L407.8 169.7 L408.9 169.4 L409.6 170.2 L410.5 170.4 L411.5 170.4 L412.4 170.4 L413.3 170.7 L413.8 171.9 L415.0 171.3 L415.8 171.7 L416.9 171.5 L417.7 171.9 L418.4 172.8 L419.3 172.9 L419.8 174.1 L421.1 173.2 L421.9 173.7 L422.7 174.1 L423.1 175.9 L424.0 176.0 L425.3 175.2 L426.1 175.5 L427.1 175.6 L427.9 175.9 L428.9 175.8 L429.7 176.5 L429.7 179.6 L431.3 177.2 L431.4 177.7 L433.7 169.7 L433.9 168.4 L432.5 169.9 L431.8 169.1 L431.0 168.9 L430.2 168.5 L429.2 168.6 L428.5 167.9 L427.4 168.6 L427.6 165.1 L425.8 167.6 L425.1 167.1 L424.1 167.1 L423.4 166.5 L422.8 165.7 L421.6 166.2 L421.9 162.8 L420.2 164.9 L419.1 165.5 L418.6 164.2 L417.3 165.2 L416.9 163.6 L416.1 163.4 L415.0 163.7 L414.2 163.4 L412.9 164.4 L412.1 163.9 L411.2 163.7 L410.9 162.1 L410.5 161.0 L409.0 162.2 L408.7 160.7 L407.7 160.9 L406.5 161.3 L406.0 160.2 L405.1 159.8 L404.7 158.4 L403.1 159.7 L402.5 158.8 L401.6 158.8 L401.1 157.6 L400.7 156.5 L399.4 157.3 L399.1 156.0 L397.5 157.3 L396.8 157.0 L396.3 156.0 L395.3 156.0 L394.9 155.0 L393.9 155.0 L393.4 154.1 L392.6 153.8 L391.4 154.0 L392.5 150.9 L389.9 153.2 L389.0 153.0 L388.4 152.3 L388.3 151.1 L388.4 149.6 L386.4 150.8 L385.8 150.1 L385.6 149.1 L384.9 148.6 L383.5 148.8 L382.9 148.3 L383.1 146.9 L382.1 146.7 L383.0 145.0 L381.0 145.7 L382.6 143.7 L381.3 143.7 L380.2 143.5 L380.5 142.4 L379.1 142.1 L379.0 141.1 L378.2 140.4 L377.4 139.8 L377.1 138.9 L376.8 137.9 L376.7 136.8 L375.7 136.3 L375.0 135.7 L374.4 134.9 L373.7 134.3 L372.8 133.9 L373.2 132.4 L371.9 132.3 L371.6 131.4 L370.4 131.1 L369.9 130.3 L369.7 129.3 L368.9 128.7 L368.3 128.1 L367.7 127.4 L367.2 126.7 L366.4 126.2 L365.8 125.6 L365.4 124.9 L364.8 124.3 L364.9 123.2 L364.0 122.7 L363.7 121.9 L363.3 121.1 L362.6 120.5 L362.0 119.8 L361.4 119.1 L360.9 118.4 L360.9 117.3 L360.0 116.8 L359.7 116.0 L359.7 114.9 L358.8 114.4 L358.3 113.7 L358.4 112.6 L357.7 111.9 L357.6 111.0 L356.8 110.4 L356.2 109.7 L355.9 108.8 L355.8 107.8 L355.2 107.1 L354.7 106.4 L354.2 105.6 L353.8 104.9 L353.9 103.8 L352.8 103.4 L352.6 102.4 L352.4 101.5 L351.6 100.9 L351.5 100.0 L351.2 99.1 L350.6 98.4 L350.3 97.6 L349.8 96.8 L349.3 96.1 L349.2 95.1 L348.9 94.3 L348.2 93.6 L348.0 92.7 L347.4 92.0 L347.8 90.9 L346.9 90.3 L346.8 89.4 L346.2 88.6 L345.8 87.8 L345.6 86.9 L345.3 86.1 L345.0 85.2 L344.4 84.5 L344.2 83.6 L343.8 82.8 L343.4 82.0 L343.5 81.1 L343.0 80.3 L342.9 79.4 L342.7 78.5 L342.5 77.7 L341.9 76.9 L341.7 76.1 L341.6 75.2 L341.1 74.4 L340.9 73.5 L340.9 72.6 L340.3 71.8 L340.3 70.9 L340.4 69.9 L339.8 69.2 L339.7 68.2 L339.3 67.4 L339.2 66.5 L338.9 65.6 L338.6 64.8 L338.6 63.8 L338.6 62.9 L337.9 62.2 L337.7 61.3 L337.6 60.4 L337.5 59.5 L337.0 58.7 L337.0 57.7 L336.5 57.0 L336.4 56.0 L336.2 54.9 L336.0 53.8 L335.4 52.7 L335.1 51.7 L335.0 50.8 L334.5 50.1 L333.5 49.9 L332.8 50.3 L332.3 50.8 L332.0 51.4 L331.7 52.3 L331.7 53.3 L331.3 54.3 L331.2 55.4 L330.8 56.6 L330.9 57.8 L330.9 59.0 L330.6 60.1 L330.5 61.1 L329.9 62.0 L330.3 63.0 L330.0 63.8 L329.9 64.7 L329.8 65.6 L329.9 66.6 L329.8 67.4 L329.8 68.4 L329.6 69.2 L329.7 70.2 L329.5 71.1 L329.5 72.0 L329.2 72.8 L329.2 73.8 L329.5 74.7 L329.1 75.6 L329.3 76.5 L329.4 77.4 L329.2 78.3 L329.3 79.2 L328.7 80.1 L328.8 81.0 L328.7 81.9 L328.7 82.8 L328.5 83.6 L328.7 84.6 L328.9 85.5 L328.5 86.4 L328.4 87.3 L328.5 88.2 L328.3 89.1 L328.7 90.0 L328.5 90.9 L328.4 91.8 L328.5 92.7 L328.3 93.6 L328.5 94.5 L327.8 95.3 L328.0 96.3 L328.5 97.2 L327.9 98.1 L328.5 99.0Z"/>
<path d="M330.0 99.0 L330.1 98.1 L330.0 97.2 L330.1 96.3 L330.4 95.4 L330.6 94.5 L330.0 93.6 L330.2 92.7 L330.2 91.8 L330.0 90.9 L330.4 90.0 L330.2 89.1 L330.2 88.2 L330.1 87.3 L330.2 86.4 L330.3 85.5 L330.4 84.7 L330.9 83.8 L330.7 82.9 L330.7 82.0 L330.7 81.1 L330.8 80.2 L330.8 79.3 L330.9 78.4 L331.2 77.5 L330.9 76.6 L330.8 75.7 L331.2 74.8 L331.0 73.9 L331.6 73.1 L331.2 72.1 L331.2 71.2 L331.7 70.4 L331.4 69.4 L332.0 68.6 L331.7 67.7 L332.0 66.7 L332.1 65.6 L332.6 64.5 L332.6 63.3 L332.6 62.1 L333.0 61.1 L333.1 60.1 L333.2 59.2 L333.3 58.5 L333.3 58.0 L333.4 58.1 L332.8 58.2 L333.0 58.5 L333.0 59.4 L333.4 60.4 L333.5 61.6 L334.2 62.5 L334.3 63.4 L334.9 64.1 L335.2 65.0 L335.4 65.8 L335.2 66.8 L336.1 67.5 L336.4 68.3 L336.4 69.2 L336.9 70.0 L336.9 71.0 L337.2 71.8 L337.5 72.7 L337.5 73.6 L337.9 74.4 L338.1 75.3 L337.7 76.3 L338.4 77.1 L338.7 78.0 L338.7 78.9 L339.1 79.7 L339.5 80.6 L339.8 81.4 L340.2 82.3 L340.3 83.2 L340.8 84.0 L340.9 84.9 L341.3 85.7 L342.0 86.4 L342.3 87.3 L342.8 88.1 L342.6 89.1 L343.1 89.8 L343.6 90.6 L343.6 91.6 L343.7 92.5 L344.2 93.2 L344.4 94.1 L345.0 94.9 L345.3 95.7 L345.5 96.6 L345.9 97.4 L346.2 98.3 L346.4 99.2 L346.9 100.0 L347.1 100.9 L347.3 101.8 L348.0 102.5 L347.9 103.5 L348.7 104.2 L349.1 105.0 L349.3 105.9 L349.9 106.6 L350.1 107.5 L350.6 108.3 L350.8 109.2 L351.5 109.8 L351.7 110.7 L352.4 111.4 L352.9 112.1 L353.1 113.0 L353.7 113.7 L353.7 114.7 L354.0 115.5 L354.7 116.2 L354.3 117.4 L354.8 118.1 L355.7 118.8 L356.1 119.6 L356.1 120.6 L356.0 121.7 L357.0 122.2 L357.2 123.2 L357.1 124.3 L358.0 124.9 L358.6 125.5 L359.0 126.4 L359.9 126.9 L360.0 127.9 L360.4 128.7 L361.0 129.4 L361.6 130.1 L361.8 131.0 L362.5 131.6 L362.9 132.4 L363.6 133.0 L364.0 133.8 L364.4 134.6 L364.7 135.5 L365.2 136.2 L365.9 136.9 L365.9 137.9 L366.5 138.5 L367.1 139.2 L367.2 140.2 L367.7 140.9 L367.5 142.0 L368.0 142.7 L368.5 143.4 L368.7 144.3 L369.2 145.2 L369.8 145.9 L369.7 146.9 L370.2 147.7 L370.9 148.4 L371.2 149.3 L371.9 149.9 L372.0 150.9 L372.9 151.5 L372.7 152.6 L372.6 153.8 L373.6 154.4 L374.4 155.0 L374.2 156.4 L375.5 156.6 L376.3 157.3 L375.7 159.1 L376.1 160.3 L377.5 160.5 L378.8 160.7 L379.8 161.0 L380.4 161.9 L380.9 162.8 L382.1 162.6 L382.4 163.7 L383.3 163.7 L383.8 164.4 L384.0 165.5 L384.7 166.1 L386.6 165.3 L387.2 166.0 L387.2 167.6 L388.6 167.4 L388.7 169.1 L389.8 169.3 L390.2 170.5 L390.6 171.8 L392.4 170.4 L393.4 170.5 L394.4 170.6 L394.9 171.6 L395.6 172.3 L396.7 172.2 L397.3 173.2 L398.1 173.6 L399.1 173.5 L399.9 174.2 L400.6 174.8 L401.8 174.2 L402.6 174.6 L403.5 174.9 L404.3 175.2 L405.0 175.9 L405.8 176.5 L406.7 176.8 L407.6 176.9 L407.5 179.4 L408.8 178.5 L409.8 178.4 L410.5 178.9 L410.8 180.5 L412.1 179.7 L413.1 179.6 L414.0 179.8 L414.8 180.2 L415.3 181.1 L416.3 181.3 L417.0 181.8 L417.9 182.0 L418.6 182.5 L419.3 183.3 L419.8 184.3 L420.9 184.1 L421.5 184.9 L422.7 184.5 L422.8 186.5 L423.9 186.3 L424.8 186.5 L425.9 186.3 L426.8 186.5 L427.6 186.9 L428.5 187.0 L428.3 189.6 L430.1 187.8 L430.8 188.6 L430.7 188.8 L434.3 181.2 L434.5 180.6 L433.8 179.9 L432.5 180.6 L431.8 180.0 L430.8 180.0 L430.2 179.2 L429.6 178.4 L428.4 178.8 L427.6 178.3 L426.6 178.3 L425.8 178.0 L425.6 176.3 L424.1 177.3 L423.5 176.6 L422.8 176.0 L422.1 175.4 L421.2 175.1 L420.6 174.3 L419.6 174.3 L418.3 174.9 L418.2 173.0 L417.7 171.9 L416.0 173.3 L415.1 173.0 L414.4 172.3 L413.9 171.2 L412.5 172.0 L411.7 171.6 L411.1 170.8 L410.3 170.3 L409.3 170.3 L408.4 170.2 L407.6 169.7 L407.3 168.3 L406.3 168.2 L405.4 168.2 L404.3 168.4 L403.5 168.0 L402.5 168.0 L401.8 167.5 L400.8 167.5 L399.9 167.4 L399.1 166.9 L398.4 166.4 L397.9 165.4 L397.2 165.1 L396.5 164.4 L396.0 163.6 L394.5 164.5 L393.4 164.7 L393.0 163.8 L392.2 163.4 L391.9 162.4 L392.4 160.4 L391.1 160.9 L390.0 161.0 L389.8 159.9 L388.9 159.5 L388.4 158.6 L387.7 157.8 L386.4 157.9 L385.1 157.9 L384.7 156.8 L383.6 156.8 L382.8 156.6 L381.8 156.5 L382.0 155.2 L381.3 155.0 L380.3 155.0 L380.4 154.0 L379.4 153.9 L379.1 153.0 L379.6 151.8 L378.4 151.5 L377.8 150.9 L378.1 149.7 L376.7 149.4 L376.1 148.7 L376.1 147.7 L375.7 146.8 L374.7 146.3 L374.1 145.7 L374.7 144.4 L373.3 144.1 L374.1 142.8 L372.8 142.4 L372.8 141.4 L371.8 140.8 L371.6 139.9 L370.8 139.3 L370.8 138.3 L370.0 137.6 L370.0 136.6 L369.3 135.9 L368.9 135.1 L369.0 134.0 L367.8 133.7 L367.3 132.9 L367.0 132.0 L366.0 131.5 L365.7 130.7 L365.5 129.7 L364.3 129.4 L364.0 128.5 L363.5 127.8 L363.7 126.6 L362.9 126.0 L362.5 125.2 L362.0 124.5 L360.9 124.1 L361.0 123.0 L359.9 122.6 L359.8 121.7 L359.2 121.0 L358.6 120.3 L358.3 119.5 L358.4 118.5 L357.8 117.8 L357.2 117.1 L357.0 116.2 L356.6 115.4 L356.3 114.6 L355.9 113.7 L355.5 112.9 L355.6 111.9 L354.8 111.2 L354.5 110.4 L353.8 109.7 L353.4 108.8 L352.8 108.1 L352.6 107.2 L352.2 106.4 L351.6 105.7 L351.1 105.0 L350.7 104.1 L350.4 103.3 L350.1 102.5 L349.7 101.7 L349.5 100.8 L349.4 99.9 L349.0 99.1 L348.5 98.4 L348.2 97.6 L347.7 96.8 L347.8 95.8 L347.3 95.1 L347.3 94.1 L346.7 93.4 L346.3 92.5 L345.9 91.7 L345.8 90.8 L345.6 89.9 L345.3 89.0 L345.2 88.1 L344.6 87.3 L344.4 86.5 L343.8 85.7 L343.3 84.9 L342.9 84.1 L342.5 83.3 L342.6 82.3 L342.4 81.5 L342.1 80.7 L341.3 80.0 L341.5 79.0 L340.9 78.2 L340.6 77.4 L340.3 76.6 L340.2 75.7 L339.9 74.8 L340.3 73.8 L339.4 73.1 L339.4 72.1 L339.5 71.2 L339.0 70.4 L338.6 69.6 L338.4 68.7 L338.2 67.8 L338.0 66.9 L337.4 66.1 L337.5 65.1 L336.7 64.4 L336.5 63.5 L336.4 62.6 L335.7 61.9 L335.6 61.0 L335.2 59.9 L334.7 58.8 L334.8 57.7 L334.1 57.0 L332.7 56.5 L332.2 57.4 L331.2 57.7 L331.6 58.8 L331.4 59.7 L330.9 60.7 L331.1 61.8 L330.6 63.0 L330.5 64.2 L330.4 65.3 L330.3 66.4 L330.0 67.4 L330.1 68.4 L329.8 69.2 L329.8 70.1 L329.6 71.0 L329.2 71.9 L329.2 72.8 L329.3 73.7 L329.1 74.6 L329.0 75.5 L329.1 76.4 L328.8 77.3 L328.8 78.2 L329.1 79.2 L329.0 80.1 L328.6 80.9 L328.9 81.9 L328.7 82.8 L328.7 83.7 L328.8 84.6 L328.4 85.4 L328.5 86.4 L328.5 87.3 L328.4 88.2 L328.3 89.1 L328.3 90.0 L327.9 90.8 L328.2 91.8 L328.0 92.7 L328.1 93.6 L327.8 94.5 L328.2 95.4 L328.2 96.3 L328.1 97.2 L328.1 98.1 L328.2 99.0Z"/>
<path d="M330.1 99.0 L330.3 98.1 L330.3 97.2 L329.9 96.3 L330.6 95.4 L330.4 94.5 L330.1 93.6 L330.3 92.7 L330.0 91.8 L330.2 90.9 L330.0 90.0 L330.0 89.1 L330.1 88.2 L330.1 87.3 L330.1 86.4 L330.7 85.6 L330.2 84.6 L330.4 83.8 L330.4 82.9 L330.6 82.0 L330.4 81.1 L330.9 80.2 L330.7 79.3 L330.9 78.4 L331.0 77.5 L331.1 76.6 L331.1 75.7 L331.2 74.8 L331.4 73.9 L331.7 73.1 L331.2 72.1 L331.3 71.2 L331.4 70.4 L331.9 69.5 L331.8 68.4 L331.8 67.3 L332.3 66.2 L332.2 65.0 L332.4 63.9 L332.5 62.9 L332.9 62.2 L333.0 61.5 L333.1 61.2 L332.7 61.4 L332.5 61.5 L333.2 62.1 L333.5 63.1 L333.8 63.8 L334.0 64.7 L334.4 65.5 L335.0 66.2 L335.0 67.1 L335.7 67.9 L335.5 68.8 L335.2 69.8 L335.5 70.7 L336.1 71.4 L336.2 72.3 L336.6 73.2 L336.9 74.0 L337.0 74.9 L336.9 75.9 L337.2 76.7 L337.6 77.6 L337.8 78.5 L338.2 79.3 L338.6 80.1 L338.7 81.0 L339.1 81.9 L338.9 82.9 L339.1 83.8 L339.1 84.7 L340.0 85.4 L340.1 86.3 L340.3 87.1 L340.7 88.0 L340.8 88.9 L341.1 89.7 L341.7 90.5 L342.0 91.3 L341.9 92.3 L342.2 93.1 L342.2 94.1 L342.3 95.0 L343.0 95.7 L343.3 96.6 L343.5 97.5 L343.8 98.3 L344.1 99.2 L344.2 100.1 L344.7 100.9 L344.9 101.8 L345.0 102.8 L345.5 103.6 L345.7 104.5 L346.4 105.1 L346.7 106.0 L347.2 106.8 L347.6 107.6 L347.4 108.7 L347.9 109.4 L348.5 110.1 L348.8 111.0 L349.0 111.8 L349.6 112.5 L349.2 113.6 L349.6 114.4 L350.3 115.1 L350.6 116.0 L350.8 116.9 L351.1 117.7 L351.8 118.4 L352.1 119.3 L352.5 120.1 L352.9 121.0 L352.7 122.1 L353.4 122.7 L353.6 123.6 L354.0 124.5 L354.6 125.1 L354.4 126.2 L355.2 126.9 L355.4 127.8 L355.8 128.6 L356.2 129.4 L356.2 130.4 L356.9 131.0 L357.6 131.7 L357.6 132.7 L358.3 133.4 L358.4 134.3 L358.9 135.0 L359.0 135.9 L358.8 137.0 L360.0 137.5 L360.4 138.3 L360.2 139.4 L361.1 140.0 L361.2 140.9 L361.2 142.0 L361.5 142.9 L362.1 143.7 L362.4 144.6 L363.2 145.2 L363.9 145.9 L364.6 146.5 L364.4 147.7 L365.5 148.0 L365.9 148.9 L366.1 149.8 L366.7 150.4 L367.0 151.2 L367.2 152.0 L368.1 152.6 L368.6 153.3 L368.5 154.4 L369.7 154.7 L369.8 155.7 L370.3 156.5 L370.3 157.5 L370.9 158.2 L370.0 159.6 L370.7 160.3 L371.3 161.0 L371.9 161.7 L372.6 162.3 L373.1 163.1 L372.6 164.3 L373.1 165.1 L373.6 165.9 L374.3 166.5 L374.5 167.4 L374.7 168.3 L375.2 169.1 L375.7 169.9 L376.6 170.5 L376.7 171.4 L377.3 172.1 L376.6 173.5 L378.1 173.7 L378.7 174.5 L377.5 176.1 L378.4 176.6 L379.6 177.0 L379.4 178.2 L380.3 178.7 L380.3 179.7 L381.3 180.3 L381.0 181.4 L381.7 182.1 L381.9 183.0 L382.4 183.7 L382.7 184.6 L383.0 185.5 L384.1 186.0 L384.7 186.6 L384.8 187.6 L385.8 188.1 L385.6 189.2 L385.7 190.2 L385.8 191.2 L386.9 191.6 L386.9 192.7 L386.7 193.8 L387.7 194.3 L388.2 195.0 L388.3 196.1 L388.7 196.9 L390.1 197.2 L390.4 198.0 L390.5 199.1 L390.9 200.0 L391.0 201.0 L391.3 202.0 L392.6 202.2 L393.4 202.8 L393.0 204.3 L394.0 204.8 L395.2 205.1 L396.0 205.6 L396.3 206.6 L397.0 207.3 L397.3 208.3 L398.4 208.6 L398.4 210.0 L399.6 210.1 L400.7 210.3 L401.0 211.4 L402.1 211.6 L402.5 212.4 L403.4 212.9 L403.5 214.2 L403.7 215.5 L405.5 214.8 L406.0 215.7 L406.1 217.0 L407.3 217.1 L408.2 217.3 L408.9 217.9 L409.6 218.4 L409.8 219.6 L410.7 219.8 L411.3 220.5 L411.1 222.1 L412.5 221.7 L412.9 222.4 L413.3 223.3 L414.3 223.5 L414.8 224.3 L414.9 225.5 L416.3 225.3 L417.4 225.6 L417.8 226.5 L418.9 226.8 L419.6 227.4 L419.8 228.7 L420.8 228.8 L422.0 228.8 L422.5 229.7 L422.9 230.7 L423.3 231.8 L424.3 232.1 L425.0 232.7 L426.0 233.0 L426.9 233.3 L427.1 234.7 L428.4 234.4 L429.0 235.3 L429.3 236.5 L435.1 227.0 L434.2 226.8 L433.4 226.4 L432.8 225.7 L432.3 225.0 L431.0 225.4 L430.2 225.0 L430.2 223.5 L428.9 223.7 L428.5 222.9 L428.2 221.9 L427.7 221.1 L426.3 221.5 L426.2 220.2 L425.4 219.9 L424.1 220.2 L423.0 220.2 L422.1 220.0 L422.7 218.0 L420.9 218.6 L420.2 218.1 L419.5 217.6 L418.9 216.9 L418.2 216.2 L417.2 215.9 L417.5 214.1 L415.8 214.7 L415.8 213.0 L414.4 213.3 L413.9 212.4 L413.1 212.0 L412.7 211.1 L411.6 211.0 L411.3 209.9 L410.2 210.0 L409.9 209.0 L408.6 209.2 L408.6 208.0 L407.5 208.0 L407.1 207.2 L406.3 206.7 L405.4 206.4 L405.0 205.6 L403.8 205.5 L403.6 204.5 L403.3 203.6 L402.0 203.7 L401.3 203.2 L400.9 202.4 L400.3 201.9 L400.4 200.7 L399.2 200.7 L398.7 200.0 L398.9 198.8 L397.4 198.9 L397.9 197.5 L397.0 197.1 L396.1 196.7 L395.8 195.8 L395.3 195.1 L395.6 193.9 L394.7 193.4 L393.3 193.1 L393.6 192.0 L392.9 191.3 L392.1 190.7 L392.1 189.7 L391.6 188.9 L391.2 188.1 L390.3 187.6 L389.6 186.9 L389.8 185.8 L389.6 184.9 L389.9 183.7 L388.4 183.5 L388.4 182.5 L386.8 182.3 L386.6 181.4 L386.1 180.7 L386.1 179.7 L385.6 179.0 L384.9 178.3 L384.5 177.5 L385.4 176.0 L384.7 175.4 L384.0 174.7 L383.0 174.2 L383.6 172.9 L382.3 172.6 L381.9 171.8 L381.2 171.1 L380.8 170.3 L380.2 169.6 L380.1 168.7 L380.0 167.8 L379.7 166.9 L379.2 166.2 L378.9 165.3 L377.8 164.9 L378.0 163.8 L377.8 162.9 L376.6 162.4 L376.4 161.6 L376.2 160.6 L375.2 160.1 L375.1 159.1 L375.2 158.1 L374.4 157.5 L374.2 156.6 L373.9 155.7 L374.7 154.3 L373.5 153.9 L373.0 153.2 L372.6 152.4 L371.5 151.8 L371.3 150.9 L370.6 150.3 L369.9 149.6 L369.3 148.8 L369.2 147.8 L368.9 146.9 L368.3 146.1 L367.4 145.7 L366.8 145.0 L366.6 144.0 L366.8 142.8 L365.2 142.8 L364.7 142.1 L364.5 141.3 L364.0 140.6 L364.4 139.5 L364.0 138.7 L363.5 138.0 L362.8 137.3 L362.6 136.4 L362.2 135.6 L361.9 134.8 L361.1 134.1 L361.2 133.1 L360.6 132.3 L360.4 131.4 L359.8 130.7 L359.7 129.7 L359.2 129.0 L358.7 128.2 L358.3 127.4 L358.2 126.5 L358.0 125.6 L357.1 125.0 L356.9 124.1 L356.5 123.3 L356.3 122.4 L355.6 121.7 L355.3 120.9 L354.9 120.1 L354.6 119.3 L354.4 118.4 L353.9 117.6 L353.4 116.9 L353.0 116.1 L353.3 115.0 L353.5 114.0 L352.0 113.6 L352.0 112.6 L352.0 111.6 L351.6 110.8 L350.9 110.1 L350.4 109.3 L350.4 108.3 L349.8 107.6 L349.4 106.8 L349.8 105.6 L348.8 105.1 L348.4 104.2 L347.9 103.5 L347.5 102.7 L347.3 101.8 L347.0 101.0 L346.6 100.2 L346.1 99.5 L346.3 98.5 L345.6 97.8 L345.6 96.8 L345.2 96.0 L344.8 95.2 L345.3 94.1 L344.3 93.5 L344.2 92.6 L343.9 91.7 L344.2 90.7 L343.6 89.9 L343.1 89.1 L343.3 88.1 L342.6 87.4 L342.3 86.5 L342.4 85.6 L341.9 84.8 L341.4 84.0 L341.5 83.0 L341.0 82.2 L340.9 81.3 L340.5 80.5 L340.4 79.6 L339.9 78.8 L339.6 78.0 L339.3 77.1 L339.1 76.3 L339.1 75.3 L338.9 74.5 L338.7 73.6 L338.9 72.6 L338.3 71.8 L338.0 71.0 L337.9 70.0 L337.8 69.1 L337.8 68.2 L337.5 67.3 L336.9 66.5 L337.1 65.5 L336.2 64.8 L336.1 63.9 L335.5 63.1 L335.1 62.3 L334.6 61.3 L333.9 60.4 L333.0 59.8 L332.0 60.2 L331.4 60.8 L331.5 61.7 L330.5 62.4 L330.8 63.6 L330.7 64.7 L330.2 65.9 L330.2 67.1 L330.1 68.2 L330.0 69.2 L329.6 70.1 L329.4 71.0 L329.6 71.9 L329.5 72.8 L329.5 73.8 L329.1 74.6 L329.4 75.6 L329.2 76.5 L329.1 77.4 L328.3 78.2 L328.6 79.1 L328.7 80.1 L328.6 81.0 L328.7 81.9 L328.6 82.8 L328.2 83.6 L328.2 84.5 L328.2 85.4 L327.9 86.3 L328.3 87.3 L327.7 88.1 L328.3 89.1 L328.1 90.0 L327.8 90.8 L327.9 91.8 L327.9 92.7 L327.5 93.5 L328.1 94.5 L328.0 95.4 L328.2 96.3 L328.1 97.2 L328.4 98.1 L328.4 99.0Z"/>
<path d="M363.1 139.6 L363.5 140.4 L364.1 141.1 L364.5 141.8 L364.9 142.6 L365.3 143.5 L366.0 144.1 L366.3 145.0 L366.3 146.0 L367.2 146.5 L367.0 147.7 L368.4 147.9 L368.5 148.8 L369.1 149.5 L368.5 150.9 L369.7 151.2 L369.8 152.2 L370.5 152.8 L370.2 154.0 L370.9 154.6 L371.2 155.5 L372.1 156.0 L372.7 156.8 L372.4 157.9 L373.4 158.4 L374.0 159.1 L374.3 160.0 L374.8 160.8 L374.6 162.0 L375.5 162.5 L375.9 163.3 L376.6 164.0 L377.1 164.7 L377.6 165.4 L377.8 166.4 L377.9 167.4 L378.5 168.0 L378.2 169.3 L379.3 169.6 L379.1 170.8 L379.9 171.3 L380.5 172.0 L380.6 173.0 L381.4 173.6 L382.0 174.2 L382.2 175.2 L382.1 176.3 L383.3 176.6 L383.4 177.7 L383.7 178.5 L384.7 179.0 L384.7 180.1 L385.3 180.8 L385.5 181.7 L385.8 182.6 L386.3 183.4 L387.0 184.1 L387.6 184.8 L387.8 185.8 L388.6 186.4 L388.5 187.6 L389.3 188.2 L389.9 189.0 L389.8 190.4 L391.6 190.1 L391.8 191.2 L392.9 191.5 L393.5 192.2 L393.8 193.3 L394.2 194.3 L395.3 194.5 L396.4 194.6 L396.6 195.9 L397.5 196.2 L397.5 197.8 L398.8 197.7 L399.3 198.5 L400.3 198.8 L400.9 199.6 L401.8 199.9 L402.5 200.6 L403.4 200.9 L403.4 202.6 L405.1 201.7 L405.2 203.5 L406.6 203.0 L407.4 203.4 L408.1 204.1 L408.9 204.5 L409.6 205.1 L410.1 206.2 L411.3 205.8 L412.0 206.5 L413.0 206.6 L413.7 207.1 L414.8 207.1 L414.6 209.3 L415.7 209.2 L416.8 209.2 L417.7 209.4 L418.5 209.9 L418.8 211.4 L420.1 210.8 L420.8 211.5 L421.8 211.6 L422.8 211.5 L423.5 212.2 L424.2 213.1 L424.8 213.9 L426.2 213.1 L427.2 212.9 L427.3 215.2 L428.9 213.6 L429.6 214.4 L430.5 214.6 L430.7 216.0 L434.1 207.1 L433.5 206.7 L432.8 206.2 L431.8 206.3 L430.8 206.5 L430.3 205.3 L429.1 206.0 L428.4 205.5 L427.6 205.0 L427.0 204.2 L425.9 204.4 L425.1 204.1 L424.0 204.5 L423.3 203.9 L422.2 204.2 L421.5 203.6 L420.8 202.9 L420.4 201.9 L419.0 202.6 L418.6 201.5 L418.9 199.0 L417.1 200.5 L417.1 198.7 L416.5 197.8 L415.2 198.4 L414.2 198.3 L413.5 197.9 L412.6 197.5 L411.3 198.2 L410.6 197.6 L409.9 197.1 L409.9 195.3 L408.2 196.5 L407.3 196.3 L407.6 194.3 L406.2 195.0 L405.6 194.2 L404.8 193.9 L404.0 193.5 L403.6 192.6 L402.7 192.4 L402.6 191.1 L401.6 191.0 L401.0 190.4 L400.1 190.2 L398.9 190.3 L398.6 189.4 L398.2 188.5 L397.2 188.3 L396.6 187.8 L395.8 187.4 L395.1 186.8 L394.8 186.0 L393.7 185.8 L393.6 184.9 L392.8 184.4 L392.7 183.4 L392.3 182.6 L391.8 182.0 L390.9 181.5 L390.9 180.5 L389.7 180.2 L389.6 179.2 L389.5 178.2 L388.2 177.9 L388.3 176.9 L387.4 176.4 L387.1 175.5 L387.3 174.4 L386.6 173.8 L386.4 172.9 L385.2 172.5 L384.6 171.8 L384.1 171.1 L383.3 170.5 L383.1 169.5 L382.5 168.8 L382.3 167.9 L382.3 166.9 L381.4 166.3 L381.4 165.3 L380.4 164.8 L380.1 163.9 L379.5 163.3 L378.9 162.6 L378.7 161.7 L378.3 160.9 L377.5 160.3 L377.7 159.2 L376.8 158.6 L376.6 157.8 L375.9 157.1 L375.3 156.4 L374.9 155.6 L374.6 154.8 L373.8 154.2 L373.5 153.3 L373.3 152.4 L373.1 151.5 L372.2 151.0 L372.3 149.8 L371.6 149.2 L371.1 148.4 L370.5 147.7 L370.2 146.9 L369.8 146.1 L369.1 145.4 L368.7 144.6 L368.2 143.8 L368.0 142.9 L367.3 142.3 L366.8 141.5 L366.3 140.8 L365.6 140.1 L365.3 139.3 L364.6 138.6Z"/></g>
<path d="M61.6 102.2 L66.5 107.6 L64.0 107.6 L64.0 119.8 L59.2 119.8 L59.2 107.6 L56.7 107.6Z"/>
<path d="M326.2 112.4 L331.5 118.2 L328.9 118.2 L328.9 129.5 L323.5 129.5 L323.5 118.2 L320.9 118.2Z"/>
<path d="M68.6 271 L74.3 282.2 L69.6 282.2 L69.6 334.3 L67.6 334.3 L67.6 282.2 L62.9 282.2Z"/>
<rect x="83.9" y="340.6" width="10" height="2.9"/>
</g>
<text class="b" x="2.5" y="19.6" font-size="25">A</text>
<text class="b" x="273.8" y="18.8" font-size="24">B</text>
<text class="s" y="18.5" font-size="16"><tspan x="48.37" textLength="33.88" lengthAdjust="spacingAndGlyphs">CRP</tspan> <tspan x="85.62" textLength="6.43" lengthAdjust="spacingAndGlyphs">1</tspan> <tspan x="97.47" textLength="50.72" lengthAdjust="spacingAndGlyphs">µg/mL</tspan></text>
<text class="s" y="13" font-size="16"><tspan x="309.44" textLength="65.35" lengthAdjust="spacingAndGlyphs">thrombin</tspan> <tspan x="378.65" textLength="20.20" lengthAdjust="spacingAndGlyphs">0.1</tspan> <tspan x="403.26" textLength="46.31" lengthAdjust="spacingAndGlyphs">U/mL</tspan></text>
<text class="s" y="61.1" font-size="16"><tspan x="200.36" textLength="27.29" lengthAdjust="spacingAndGlyphs">PP1</tspan></text>
<text class="s" y="84.1" font-size="16"><tspan x="192.32" textLength="16.67" lengthAdjust="spacingAndGlyphs">10</tspan> <tspan x="214.01" textLength="48.13" lengthAdjust="spacingAndGlyphs">µmol/L</tspan></text>
<text class="s" y="126" font-size="16"><tspan x="196.65" textLength="7.51" lengthAdjust="spacingAndGlyphs">3</tspan> <tspan x="208.70" textLength="48.45" lengthAdjust="spacingAndGlyphs">µmol/L</tspan></text>
<text class="s" y="161.1" font-size="16"><tspan x="196.88" textLength="7.18" lengthAdjust="spacingAndGlyphs">1</tspan> <tspan x="208.10" textLength="48.73" lengthAdjust="spacingAndGlyphs">µmol/L</tspan></text>
<text class="s" y="242.7" font-size="16.5"><tspan x="186.58" textLength="50.70" lengthAdjust="spacingAndGlyphs">control</tspan></text>
<text class="s" y="297.9" font-size="16.5"><tspan x="2.88" textLength="48.51" lengthAdjust="spacingAndGlyphs">optical</tspan></text>
<text class="s" y="316.4" font-size="16.5"><tspan x="0.82" textLength="51.07" lengthAdjust="spacingAndGlyphs">density</tspan></text>
<text class="s" y="360.9" font-size="16"><tspan x="75.38" textLength="15.63" lengthAdjust="spacingAndGlyphs">15</tspan> <tspan x="95.68" textLength="6.85" lengthAdjust="spacingAndGlyphs">s</tspan></text>
<text class="s" y="116" font-size="16"><tspan x="456.03" textLength="27.28" lengthAdjust="spacingAndGlyphs">PP1</tspan></text>
<text class="s" y="150.6" font-size="16"><tspan x="447.45" textLength="17.64" lengthAdjust="spacingAndGlyphs">10</tspan> <tspan x="471.00" textLength="48.84" lengthAdjust="spacingAndGlyphs">µmol/L</tspan></text>
<text class="s" y="184.7" font-size="16"><tspan x="452.06" textLength="7.96" lengthAdjust="spacingAndGlyphs">5</tspan> <tspan x="465.78" textLength="49.06" lengthAdjust="spacingAndGlyphs">µmol/L</tspan></text>
<text class="s" y="203" font-size="16"><tspan x="452.35" textLength="7.75" lengthAdjust="spacingAndGlyphs">3</tspan> <tspan x="465.78" textLength="49.06" lengthAdjust="spacingAndGlyphs">µmol/L</tspan></text>
<text class="s" y="230.4" font-size="16"><tspan x="452.73" textLength="7.35" lengthAdjust="spacingAndGlyphs">1</tspan> <tspan x="465.11" textLength="48.93" lengthAdjust="spacingAndGlyphs">µmol/L</tspan></text>
<text class="s" y="257" font-size="16.5"><tspan x="442.60" textLength="49.62" lengthAdjust="spacingAndGlyphs">control</tspan></text>
</svg>
</body></html>
